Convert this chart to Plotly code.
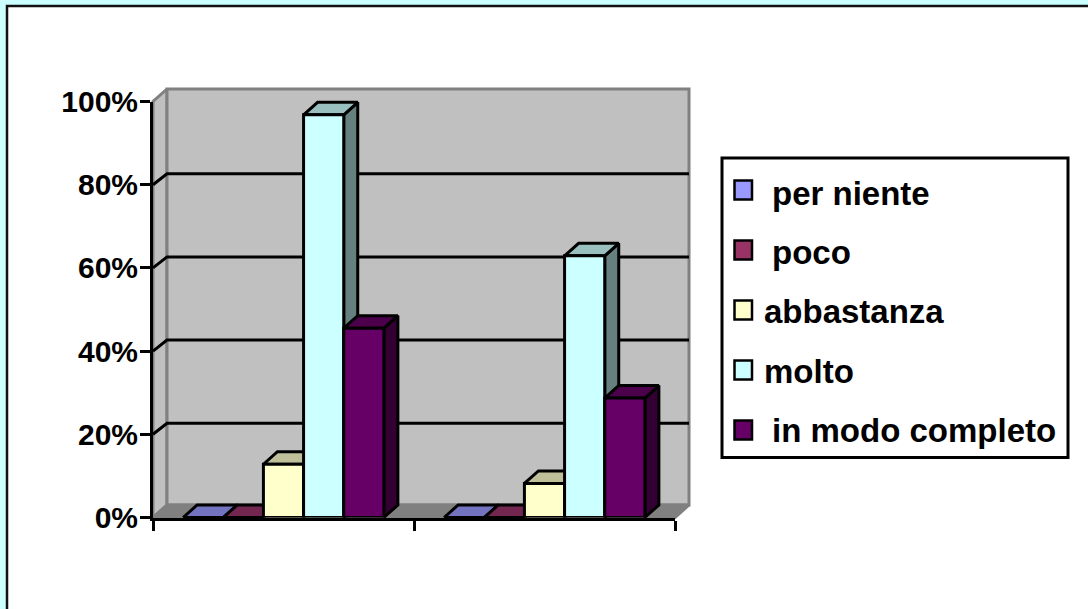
import plotly.graph_objects as go

# ---------- data ----------
categories = [0, 1]
series_names = ["per niente", "poco", "abbastanza", "molto", "in modo completo"]
per_niente = [0, 0]
poco = [0, 0]
abbastanza = [12.8, 8.2]
molto = [96.8, 62.9]
in_modo_completo = [45.5, 28.7]
y_ticks = [0, 20, 40, 60, 80, 100]
y_tick_labels = ["0%", "20%", "40%", "60%", "80%", "100%"]
series_values = [per_niente, poco, abbastanza, molto, in_modo_completo]

# ---------- styles ----------
front_colors = ["#9999FF", "#993366", "#FFFFCC", "#CCFFFF", "#660066"]
top_colors = ["#7373BF", "#732650", "#BFBF99", "#99BFBF", "#4C004C"]
side_colors = ["#4D4D80", "#4D1A33", "#808066", "#668080", "#330033"]
legend_text_x = [770, 770, 762, 762, 770]

W, H = 1088, 609
FRONT_L, FRONT_R, FRONT_B, FRONT_T = 153, 675, 517.5, 101.5
PX_PER_CAT = (FRONT_R - FRONT_L) / 2
PX_PER_PCT = (FRONT_B - FRONT_T) / 100
DEPTH_X = 14 / PX_PER_CAT
DEPTH_Y = 12.5 / PX_PER_PCT
GRID_DY = 11 / PX_PER_PCT
BAR_W = 1 / 6.5
LW = 3
FONT = "Liberation Sans, Arial, sans-serif"

# back subplot (walls, tops, sides) shares the scale of the front axes
BK_L, BK_R, BK_B, BK_T = 130, 710, 535, 70


def fx(p):
    return p / W


def fy(p):
    return 1 - p / H


back_xr = [-0.5 + (BK_L - FRONT_L) / PX_PER_CAT, -0.5 + (BK_R - FRONT_L) / PX_PER_CAT]
back_yr = [(FRONT_B - BK_B) / PX_PER_PCT, (FRONT_B - BK_T) / PX_PER_PCT]

fig = go.Figure()


def poly(xs, ys, fill, line, width=LW):
    fig.add_trace(go.Scatter(
        x=xs + xs[:1], y=ys + ys[:1], mode="lines", fill="toself", fillcolor=fill,
        line=dict(color=line, width=width), hoverinfo="skip", showlegend=False,
        xaxis="x", yaxis="y"))


xl, xr = categories[0] - 0.5, categories[-1] + 0.5
GREY = "#808080"
# left wall, back wall, floor
poly([xl, xl + DEPTH_X, xl + DEPTH_X, xl], [0, DEPTH_Y, 100 + DEPTH_Y, 100], "#C0C0C0", GREY)
poly([xl + DEPTH_X, xr + DEPTH_X, xr + DEPTH_X, xl + DEPTH_X],
     [DEPTH_Y, DEPTH_Y, 100 + DEPTH_Y, 100 + DEPTH_Y], "#C0C0C0", GREY)
poly([xl, xr, xr + DEPTH_X, xl + DEPTH_X], [0, 0, DEPTH_Y, DEPTH_Y], GREY, GREY)

# gridlines on the walls
gx, gy = [], []
for t in y_ticks[1:-1]:
    gx += [xl, xl + DEPTH_X, xr + DEPTH_X, None]
    gy += [t, t + GRID_DY, t + GRID_DY, None]
fig.add_trace(go.Scatter(x=gx, y=gy, mode="lines", line=dict(color="black", width=LW),
                         hoverinfo="skip", showlegend=False, xaxis="x", yaxis="y"))

# depth faces of the bars
for ci, c in enumerate(categories):
    for si, vals in enumerate(series_values):
        v = vals[ci]
        x0 = c + (si - 2.5) * BAR_W
        x1 = x0 + BAR_W
        poly([x1, x1 + DEPTH_X, x1 + DEPTH_X, x1], [0, DEPTH_Y, v + DEPTH_Y, v],
             side_colors[si], "black")
        poly([x0, x1, x1 + DEPTH_X, x0 + DEPTH_X], [v, v, v + DEPTH_Y, v + DEPTH_Y],
             top_colors[si], "black")

# front faces of the bars
for si, name in enumerate(series_names):
    fig.add_trace(go.Bar(
        x=categories, y=series_values[si], name=name, marker_color=front_colors[si],
        marker_line=dict(color="black", width=LW), cliponaxis=False, showlegend=False,
        xaxis="x2", yaxis="y2"))

shapes = [
    dict(type="rect", xref="paper", yref="paper", layer="below",
         x0=fx(7), x1=1.02, y0=-0.02, y1=fy(6), fillcolor="white",
         line=dict(color="#111111", width=2.5)),
    dict(type="rect", xref="paper", yref="paper", layer="above",
         x0=fx(722), x1=fx(1068), y0=fy(457.5), y1=fy(158), fillcolor="rgba(0,0,0,0)",
         line=dict(color="black", width=3)),
]
annotations = []
for si, name in enumerate(series_names):
    cy = 190 + 60 * si
    shapes.append(dict(type="rect", xref="paper", yref="paper", layer="above",
                       x0=fx(734.5), x1=fx(752), y0=fy(cy + 9.5), y1=fy(cy - 9.5),
                       fillcolor=front_colors[si], line=dict(color="black", width=2.5)))
    annotations.append(dict(xref="paper", yref="paper", x=fx(legend_text_x[si]),
                            y=fy(193.5 + 59.2 * si),
                            xanchor="left", yanchor="middle", showarrow=False, text=f"<b>{name}</b>",
                            font=dict(family=FONT, size=33, color="black")))

fig.update_layout(
    template="none",
    width=W, height=H, margin=dict(l=0, r=0, t=0, b=0, pad=0), autosize=False,
    paper_bgcolor="#CCFFFF", plot_bgcolor="rgba(0,0,0,0)",
    barmode="group", bargap=1.5 / 6.5, bargroupgap=0, showlegend=False,
    shapes=shapes, annotations=annotations,
    font=dict(family=FONT, color="black"),
    xaxis=dict(domain=[fx(BK_L), fx(BK_R)], range=back_xr, visible=False, automargin=False),
    yaxis=dict(domain=[fy(BK_B), fy(BK_T)], range=back_yr, visible=False, automargin=False),
    xaxis2=dict(domain=[fx(FRONT_L), fx(FRONT_R)], range=[xl, xr], anchor="y2", automargin=False,
                tickmode="array", tickvals=[xl, 0.5, xr], ticktext=["", "", ""],
                ticks="outside", ticklen=10, tickwidth=LW, tickcolor="black",
                showline=True, linecolor="black", linewidth=LW, showgrid=False, zeroline=False),
    yaxis2=dict(domain=[fy(FRONT_B), fy(FRONT_T)], range=[0, 100], anchor="x2", automargin=False,
                tickmode="array", tickvals=y_ticks, ticktext=[f"<b>{t}</b>" for t in y_tick_labels],
                ticks="outside", ticklen=10, tickwidth=LW, tickcolor="black",
                tickfont=dict(family=FONT, size=30, color="black"), ticklabelstandoff=-4,
                showline=True, linecolor="black", linewidth=LW, showgrid=False, zeroline=False),
)

fig.write_html("out.html", config={"displayModeBar": False},
               post_script="document.body.style.margin='0';")
